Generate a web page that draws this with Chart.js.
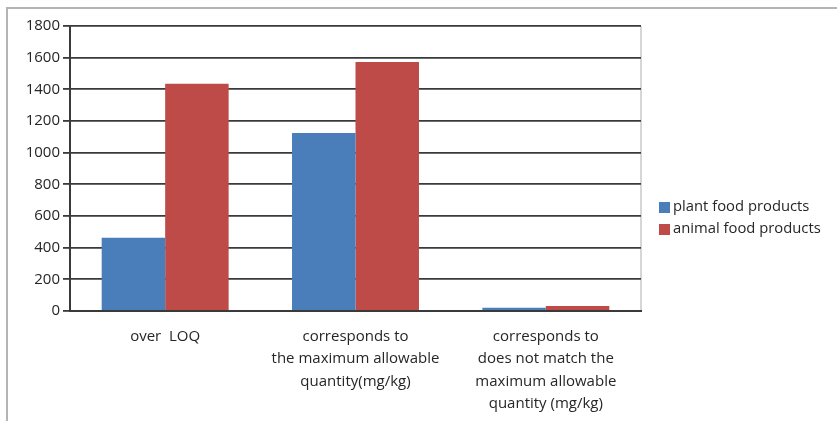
<!DOCTYPE html>
<html lang="en">
<head>
    <meta charset="UTF-8">
    <title>Food products chart</title>
    <style>
        body {
            margin: 0;
            padding: 0;
            background: #ffffff;
        }
        #wrap {
            position: relative;
            width: 837px;
            height: 421px;
        }
    </style>
    <script src="https://cdn.jsdelivr.net/npm/chart.js"></script>
</head>
<body>
    <div id="wrap">
        <canvas id="foodChart" width="837" height="421"></canvas>
    </div>

    <script>
        // data
        const categories = [
            ['over  LOQ'],
            ['corresponds to', 'the maximum allowable', 'quantity(mg/kg)'],
            ['corresponds to', 'does not match the', 'maximum allowable', 'quantity (mg/kg)']
        ];
        const plantValues = [462, 1125, 20];
        const animalValues = [1435, 1572, 32];
        const seriesNames = ['plant food products', 'animal food products'];
        const seriesColors = ['#4a7ebb', '#be4b48'];
        const yTicks = [0, 200, 400, 600, 800, 1000, 1200, 1400, 1600, 1800];

        const fontName = '"Open Sans", Lato, sans-serif';

        // frame round the picture, light border on the plot's right side, and the legend
        const extras = {
            id: 'extras',
            beforeDraw(chart) {
                const c = chart.ctx;
                c.save();
                c.strokeStyle = '#b4b4b4';
                c.lineWidth = 2;
                c.beginPath();
                c.moveTo(7, 421);
                c.lineTo(7, 8);
                c.lineTo(837, 8);
                c.stroke();
                const a = chart.chartArea;
                c.strokeStyle = '#c8c8c8';
                c.lineWidth = 1.5;
                c.beginPath();
                c.moveTo(a.right, a.top);
                c.lineTo(a.right, a.bottom);
                c.stroke();
                c.restore();
            },
            afterDraw(chart) {
                const c = chart.ctx;
                c.save();
                c.font = '14.8px ' + fontName;
                c.textBaseline = 'middle';
                chart.data.datasets.forEach((ds, i) => {
                    const y = 207 + i * 22;
                    c.fillStyle = ds.backgroundColor;
                    c.fillRect(659, y - 5, 11, 11);
                    c.fillStyle = '#262626';
                    c.fillText(ds.label, 673, y);
                });
                c.restore();
            }
        };

        const ctx = document.getElementById('foodChart').getContext('2d');
        const foodChart = new Chart(ctx, {
            type: 'bar',
            data: {
                labels: categories,
                datasets: [
                    {
                        label: seriesNames[0],
                        data: plantValues,
                        backgroundColor: seriesColors[0],
                        categoryPercentage: 0.667,
                        barPercentage: 1.0
                    },
                    {
                        label: seriesNames[1],
                        data: animalValues,
                        backgroundColor: seriesColors[1],
                        categoryPercentage: 0.667,
                        barPercentage: 1.0
                    }
                ]
            },
            options: {
                responsive: false,
                animation: false,
                layout: {
                    padding: { left: 10, top: 26, right: 196, bottom: 0 }
                },
                plugins: {
                    legend: { display: false },
                    tooltip: { enabled: false }
                },
                scales: {
                    x: {
                        grid: { display: false },
                        border: { color: '#3a3a3a', width: 2 },
                        ticks: {
                            color: '#262626',
                            font: { family: fontName, size: 15, lineHeight: 1.5 },
                            padding: 6,
                            maxRotation: 0,
                            autoSkip: false
                        },
                        afterFit: s => { s.height = 110; }
                    },
                    y: {
                        min: 0,
                        max: 1800,
                        afterBuildTicks: s => { s.ticks = yTicks.map(v => ({ value: v })); },
                        grid: {
                            color: '#3a3a3a',
                            lineWidth: 1.8,
                            tickLength: 7
                        },
                        border: { color: '#3a3a3a', width: 2 },
                        ticks: {
                            color: '#262626',
                            font: { family: fontName, size: 15 },
                            padding: 3,
                            callback: v => String(v)
                        },
                        afterFit: s => { s.width = 60; }
                    }
                }
            },
            plugins: [extras]
        });
    </script>
</body>
</html>
